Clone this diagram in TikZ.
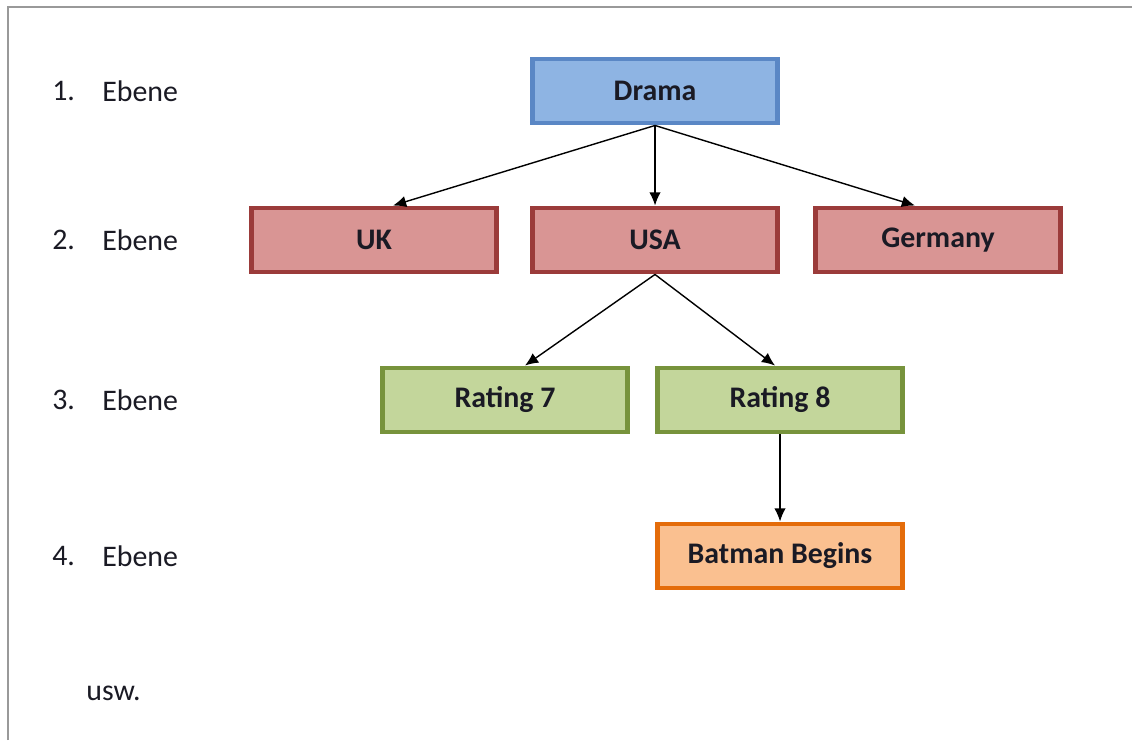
\documentclass[tikz,border=0pt]{standalone}
\usepackage{fontspec}
\setmainfont{Carlito}
\usetikzlibrary{arrows.meta}

\definecolor{blaufill}{HTML}{8EB4E3}
\definecolor{blaurand}{HTML}{5A87C5}
\definecolor{rotfill}{HTML}{D99594}
\definecolor{rotrand}{HTML}{9B3B3A}
\definecolor{gruenfill}{HTML}{C3D69B}
\definecolor{gruenrand}{HTML}{77933C}
\definecolor{orangefill}{HTML}{FAC090}
\definecolor{orangerand}{HTML}{E46C0A}
\definecolor{textfarbe}{HTML}{1A1A24}

\tikzset{
  kasten/.style={rectangle, draw, line width=2.8pt, minimum width=4.9cm,
    minimum height=1.28cm, font=\fontsize{17}{20}\selectfont\bfseries,
    text=textfarbe},
  ebene1/.style={kasten, fill=blaufill, draw=blaurand},
  ebene2/.style={kasten, fill=rotfill, draw=rotrand},
  ebene3/.style={kasten, fill=gruenfill, draw=gruenrand},
  ebene4/.style={kasten, fill=orangefill, draw=orangerand},
  beschriftung/.style={anchor=west, inner sep=0pt, text=textfarbe,
    font=\fontsize{17}{20}\selectfont},
  pfeil/.style={-{Latex[length=7.5pt,width=6.5pt]}, line width=0.8pt}
}

\begin{document}
\begin{tikzpicture}
\useasboundingbox (0,0) rectangle (22.64,-14.8);
\draw[line width=1.7pt, color=black!40] (0.16,-14.8) -- (0.16,-0.14) -- (22.64,-0.14);

% Ebenen links
\node (n1) at (1.04,-1.82) [beschriftung] {1.};
\node (e1) at (2.04,-1.82) [beschriftung] {Ebene};
\node (n2) at (1.04,-4.8) [beschriftung] {2.};
\node (e2) at (2.04,-4.8) [beschriftung] {Ebene};
\node (n3) at (1.04,-8.0) [beschriftung] {3.};
\node (e3) at (2.04,-8.0) [beschriftung] {Ebene};
\node (n4) at (1.04,-11.12) [beschriftung] {4.};
\node (e4) at (2.04,-11.12) [beschriftung] {Ebene};
\node (usw) at (1.72,-13.86) [beschriftung] {usw.};

% Baum
\node (drama) at (13.1,-1.82) [ebene1] {Drama};

\node (uk) at (7.48,-4.8) [ebene2] {UK};
\node (usa) at (13.1,-4.8) [ebene2] {USA};
\node (germany) at (18.76,-4.8) [ebene2] {Germany};

\node (r7) at (10.1,-8.0) [ebene3] {Rating 7};
\node (r8) at (15.6,-8.0) [ebene3] {Rating 8};

\node (batman) at (15.6,-11.12) [ebene4] {Batman Begins};

\draw[pfeil] (drama.south) -- ([xshift=0.38cm]uk.north);
\draw[pfeil] (drama.south) -- (usa.north);
\draw[pfeil] (drama.south) -- ([xshift=-0.46cm]germany.north);
\draw[pfeil] (usa.south) -- ([xshift=0.4cm]r7.north);
\draw[pfeil] (usa.south) -- ([xshift=-0.1cm]r8.north);
\draw[pfeil] (r8.south) -- (batman.north);
\end{tikzpicture}
\end{document}
